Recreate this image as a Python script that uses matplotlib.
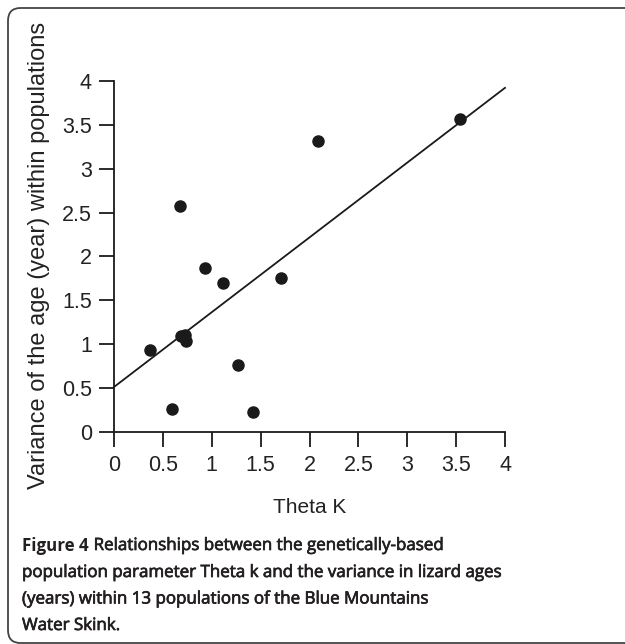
import numpy as np
import matplotlib.pyplot as plt
import matplotlib.patheffects as pe
from matplotlib.patches import FancyBboxPatch

# Theta K vs variance of age, 13 populations
theta_k = [0.37, 0.59, 0.68, 0.69, 0.73, 0.74, 0.93, 1.12, 1.27, 1.42, 1.71, 2.09, 3.54]
age_var = [0.93, 0.26, 2.57, 1.09, 1.10, 1.03, 1.87, 1.70, 0.76, 0.23, 1.75, 3.32, 3.57]

# fitted line
fit_intercept = 0.51
fit_slope = 0.853

ticks = [0, 0.5, 1, 1.5, 2, 2.5, 3, 3.5, 4]
tick_labels = ["0", "0.5", "1", "1.5", "2", "2.5", "3", "3.5", "4"]

W, H = 625, 644
fig = plt.figure(figsize=(W / 100, H / 100), dpi=100)

# rounded frame around the figure (runs off the right edge)
frame = FancyBboxPatch((8 / W, 1 - 643 / H), 680 / W, 635 / H,
                       boxstyle="round,pad=0,rounding_size=0.02",
                       transform=fig.transFigure, fill=False,
                       edgecolor="#444444", linewidth=1.3)
fig.patches.append(frame)

ax = fig.add_axes([114 / W, 1 - 431.7 / H, 391 / W, 350.7 / H])
ax.set_xlim(0, 4)
ax.set_ylim(0, 4)

xs = np.array([0, 4])
ax.plot(xs, fit_intercept + fit_slope * xs, color="#1a1a1a", lw=1.3, clip_on=False)
ax.plot(theta_k, age_var, "o", color="#1a1a1a", ms=8, clip_on=False)

for s in ["top", "right"]:
    ax.spines[s].set_visible(False)
for s in ["left", "bottom"]:
    ax.spines[s].set_linewidth(1.3)
    ax.spines[s].set_color("#1a1a1a")

ax.set_xticks(ticks)
ax.set_xticklabels(tick_labels)
ax.set_yticks(ticks)
ax.set_yticklabels(tick_labels)
ax.tick_params(direction="out", length=11, width=1.3, color="#1a1a1a",
               labelsize=15.5, labelcolor="#222222")
ax.tick_params(axis="y", pad=5)
ax.tick_params(axis="x", pad=6)
for lab in ax.get_xticklabels() + ax.get_yticklabels():
    lab.set_family("Liberation Sans")

ax.set_xlabel("Theta K", family="Liberation Sans", fontsize=15, color="#222222", labelpad=15.5)
ax.set_ylabel("Variance of the age (year) within populations", family="Liberation Sans",
              fontsize=17, color="#222222")
ax.yaxis.set_label_coords((39 - 114) / 391, (431.7 - 255) / 350.7)
ax.yaxis.label.set_va("center")

cap_font = "Open Sans"
cap_size = 12.2
cap_color = "#231f20"
thick = [pe.withStroke(linewidth=0.5, foreground=cap_color)]
head = fig.text(22 / W, 1 - 546 / H, "Figure 4", family=cap_font, fontsize=cap_size,
                weight="bold", color=cap_color, va="center")
r = fig.canvas.get_renderer()
hx = head.get_window_extent(r).x1
fig.text((hx + 5) / W, 1 - 546 / H, "Relationships between the genetically-based",
         family=cap_font, fontsize=cap_size, color=cap_color, va="center",
         path_effects=thick)

cap_lines = [
    "population parameter Theta k and the variance in lizard ages",
    "(years) within 13 populations of the Blue Mountains",
    "Water Skink.",
]
for i, line in enumerate(cap_lines):
    fig.text(22 / W, 1 - (573 + 26.5 * i) / H, line, family=cap_font, fontsize=cap_size,
             color=cap_color, va="center", path_effects=thick)

fig.savefig("out.png", dpi=100)
